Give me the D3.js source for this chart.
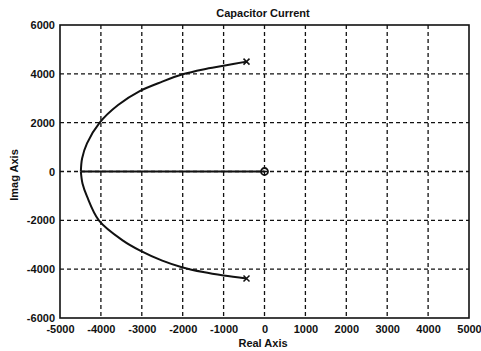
<!DOCTYPE html>
<html>
  <meta charset="utf-8">
  <title>Capacitor Current</title>
  <script src="https://d3js.org/d3.v7.min.js"></script>
  <style>
    body { margin: 0; background: #fff; }
    text { font-family: "Liberation Sans", Arial, sans-serif; font-weight: bold; fill: #111; }
  </style>
<body>
  <script>
    // ticks
    var xTicks = [-5000, -4000, -3000, -2000, -1000, 0, 1000, 2000, 3000, 4000, 5000];
    var yTicks = [-6000, -4000, -2000, 0, 2000, 4000, 6000];

    // root locus branches
    var upperX = [-4490, -4460, -4340, -4030, -3580, -3040, -2500, -2000, -1500, -1000, -440];
    var upperY = [0, 530, 1150, 2000, 2720, 3300, 3680, 3980, 4180, 4330, 4500];
    var lowerX = [-4490, -4450, -4340, -4050, -3460, -3040, -2500, -2000, -1500, -1000, -440];
    var lowerY = [0, -490, -1020, -2000, -2830, -3240, -3650, -3930, -4120, -4260, -4380];
    var realX = [-4490, 0];
    var realY = [0, 0];

    // poles (x) and zero (o)
    var polesX = [-440, -440];
    var polesY = [4500, -4380];
    var zerosX = [0];
    var zerosY = [0];

    var width = 481, height = 351;
    var mLeft = 60, mRight = 469, mTop = 25, mBottom = 318;

    var svg = d3.select("body").append("svg").attr("width", width).attr("height", height);

    var xScale = d3.scaleLinear().domain([-5000, 5000]).range([mLeft, mRight]);
    var yScale = d3.scaleLinear().domain([-6000, 6000]).range([mBottom, mTop]);

    // grid
    svg.append("g").selectAll("line")
      .data(xTicks.slice(1, -1))
      .enter().append("line")
      .attr("x1", function(d) { return xScale(d); })
      .attr("x2", function(d) { return xScale(d); })
      .attr("y1", mTop).attr("y2", mBottom)
      .attr("stroke", "#111").attr("stroke-width", 1.3)
      .attr("stroke-dasharray", "4,3");
    svg.append("g").selectAll("line")
      .data(yTicks.slice(1, -1))
      .enter().append("line")
      .attr("y1", function(d) { return yScale(d); })
      .attr("y2", function(d) { return yScale(d); })
      .attr("x1", mLeft).attr("x2", mRight)
      .attr("stroke", "#111").attr("stroke-width", 1.3)
      .attr("stroke-dasharray", "4,3");

    // axes
    var fmt = function(d) { return String(d); };
    var axisX = d3.axisBottom(xScale).tickValues(xTicks).tickFormat(fmt).tickSize(0).tickPadding(7);
    var axisY = d3.axisLeft(yScale).tickValues(yTicks).tickFormat(fmt).tickSize(0).tickPadding(5);
    var gx = svg.append("g").attr("transform", "translate(0," + mBottom + ")").call(axisX);
    var gy = svg.append("g").attr("transform", "translate(" + mLeft + ",0)").call(axisY);
    [gx, gy].forEach(function(g) {
      g.select(".domain").remove();
      g.attr("font-family", null).attr("font-size", null);
      g.selectAll("text").attr("font-size", 11);
    });

    // frame
    svg.append("rect")
      .attr("x", mLeft).attr("y", mTop)
      .attr("width", mRight - mLeft).attr("height", mBottom - mTop)
      .attr("fill", "none").attr("stroke", "#111").attr("stroke-width", 1.6);

    var line = d3.line()
      .x(function(d) { return xScale(d[0]); })
      .y(function(d) { return yScale(d[1]); })
      .curve(d3.curveCatmullRom);

    [[upperX, upperY], [lowerX, lowerY], [realX, realY]].forEach(function(b) {
      svg.append("path")
        .datum(d3.zip(b[0], b[1]))
        .attr("d", line)
        .attr("fill", "none")
        .attr("stroke", "#111")
        .attr("stroke-width", 2);
    });

    // pole markers
    svg.selectAll(".pole")
      .data(d3.zip(polesX, polesY))
      .enter().append("path")
      .attr("class", "pole")
      .attr("transform", function(d) { return "translate(" + xScale(d[0]) + "," + yScale(d[1]) + ")"; })
      .attr("d", "M-3,-3L3,3M-3,3L3,-3")
      .attr("stroke", "#111").attr("stroke-width", 1.5);

    // zero markers
    svg.selectAll(".zero")
      .data(d3.zip(zerosX, zerosY))
      .enter().append("circle")
      .attr("class", "zero")
      .attr("cx", function(d) { return xScale(d[0]); })
      .attr("cy", function(d) { return yScale(d[1]); })
      .attr("r", 3.5)
      .attr("fill", "none").attr("stroke", "#111").attr("stroke-width", 1.8);

    // labels
    svg.append("text").attr("x", 263).attr("y", 17)
      .attr("text-anchor", "middle").attr("font-size", 11)
      .text("Capacitor Current");
    svg.append("text").attr("x", 263).attr("y", 347)
      .attr("text-anchor", "middle").attr("font-size", 11)
      .text("Real Axis");
    svg.append("text")
      .attr("transform", "translate(18,175) rotate(-90)")
      .attr("text-anchor", "middle").attr("font-size", 11)
      .text("Imag Axis");
  </script>
</body>
</html>
